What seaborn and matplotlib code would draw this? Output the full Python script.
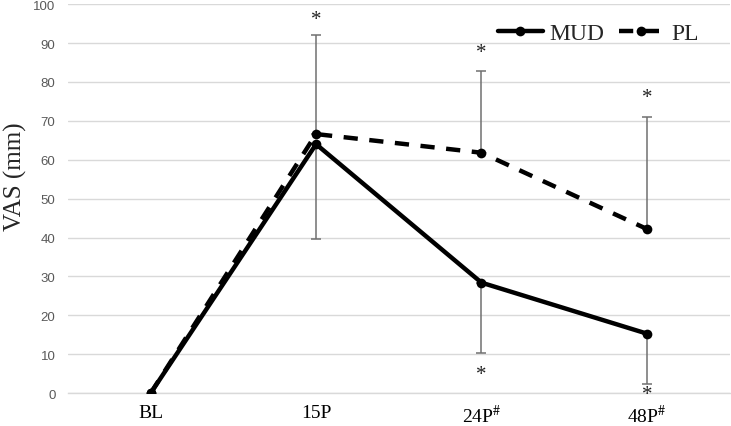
import matplotlib
matplotlib.use("Agg")
import matplotlib.pyplot as plt
import seaborn as sns
import pandas as pd

# ---- data ----
timepoints = ["BL", "15P", "24P", "48P"]
tick_labels = ["BL", "15P", "24P$^{\\#}$", "48P$^{\\#}$"]
mud_values = [0, 64.0, 28.4, 15.3]
pl_values = [0, 66.6, 61.8, 42.2]
mud_err_lower = [0, 24.5, 18.2, 13.0]
pl_err_upper = [0, 25.4, 21.0, 28.8]
star_top_y = [None, 96.0, 87.5, 76.0]
star_bottom_y = [None, None, 4.8, -0.4]

sns.set_theme(style="white")
plt.rcParams["mathtext.fontset"] = "stix"

df = pd.DataFrame({
    "time": timepoints * 2,
    "vas": mud_values + pl_values,
    "group": ["MUD"] * 4 + ["PL"] * 4,
})

fig = plt.figure(figsize=(7.31, 4.27), dpi=100)
ax = fig.add_axes([0.093, 0.077, 0.905, 0.911])

sns.lineplot(data=df, x="time", y="vas", hue="group", style="group",
             palette={"MUD": "black", "PL": "black"},
             dashes={"MUD": "", "PL": (3.2, 2.6)},
             markers={"MUD": "o", "PL": "o"},
             linewidth=3.2, markersize=7, markeredgewidth=0,
             ax=ax, legend=True, zorder=3)

xs = list(range(len(timepoints)))
# error bars (PL upper, MUD lower)
ax.errorbar(xs[1:], pl_values[1:], yerr=[[0] * 3, pl_err_upper[1:]],
            fmt="none", ecolor="#707070", elinewidth=1.1, capsize=3.5,
            capthick=1.1, zorder=2)
ax.errorbar(xs[1:], mud_values[1:], yerr=[mud_err_lower[1:], [0] * 3],
            fmt="none", ecolor="#707070", elinewidth=1.1, capsize=3.5,
            capthick=1.1, zorder=2)

serif = "Liberation Serif"
for x, y in zip(xs, star_top_y):
    if y is not None:
        ax.text(x, y, "*", ha="center", va="center", fontsize=15,
                family=serif, color="#222222")
for x, y in zip(xs, star_bottom_y):
    if y is not None:
        ax.text(x, y, "*", ha="center", va="center", fontsize=15,
                family=serif, color="#222222", clip_on=False)

ax.set_xlim(-0.5, 3.5)
ax.set_ylim(0, 100)
ax.set_yticks(range(0, 101, 10))
ax.set_xticks(xs)
ax.set_xticklabels(tick_labels, family=serif, fontsize=14, color="black")
ax.tick_params(axis="x", length=0, pad=7.5)
ax.tick_params(axis="y", length=0, pad=9, labelcolor="#595959",
               labelsize=9.5)
for lab in ax.get_yticklabels():
    lab.set_family("Liberation Sans")
ax.grid(axis="y", color="#d9d9d9", linewidth=1)
ax.set_axisbelow(True)
for s in ["top", "right", "left"]:
    ax.spines[s].set_visible(False)
ax.spines["bottom"].set_color("#d9d9d9")
ax.spines["bottom"].set_linewidth(1)
ax.set_xlabel("")
ax.set_ylabel("VAS (mm)", family=serif, fontsize=18)
ax.yaxis.set_label_coords(-0.062, 0.56)

leg = ax.legend(ncol=2, frameon=False, loc="center right",
                bbox_to_anchor=(0.985, 0.925), prop={"family": serif, "size": 17},
                handlelength=1.9, columnspacing=0.6, handletextpad=0.3)
for h in leg.legend_handles:
    h.set_linewidth(3.2)

fig.savefig("out.png", dpi=100)
